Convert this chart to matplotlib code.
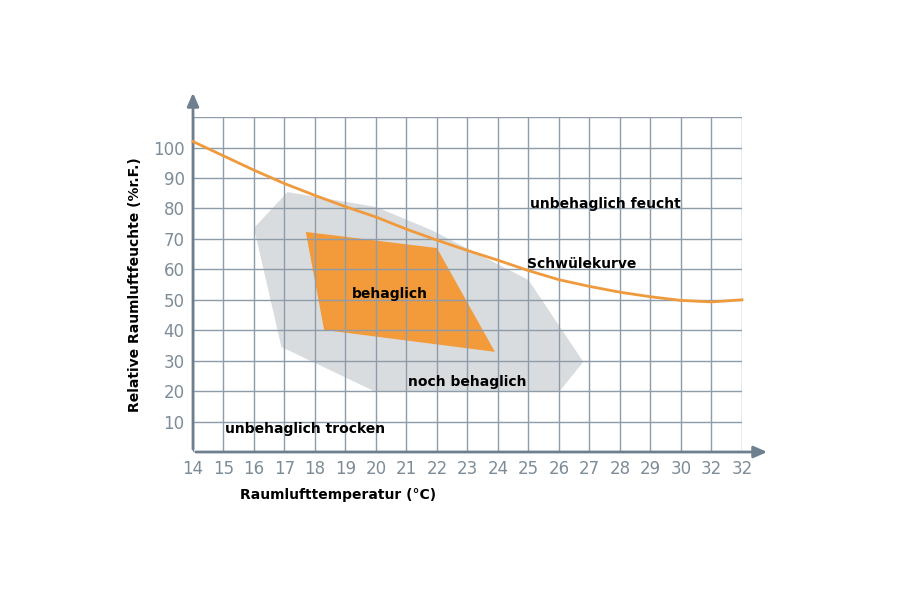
import matplotlib
import matplotlib.pyplot as plt

matplotlib.use('agg')

x_labels = ['14', '15', '16', '17', '18', '19', '20', '21', '22', '23', '24',
            '25', '26', '27', '28', '29', '30', '32', '32']
y_ticks = [10, 20, 30, 40, 50, 60, 70, 80, 90, 100]

# positions in axis index units (0 = label "14")
noch_x = [2.0, 3.1, 6.0, 7.8, 11.0, 12.8, 12.0, 6.0, 2.9]
noch_y = [73.6, 85.4, 80.5, 73.0, 56.5, 29.6, 19.7, 19.7, 34.5]
beh_x = [3.7, 8.0, 9.9, 4.3]
beh_y = [72.3, 67.0, 32.9, 40.1]
curve_x = [0, 1, 2, 3, 4, 5, 6, 7, 8, 9, 10, 11, 12, 13, 14, 15, 16, 17, 18]
curve_y = [102, 97.3, 92.6, 88.2, 84.3, 80.6, 77.2, 73.2, 69.6, 66.2, 63.0,
           59.6, 56.6, 54.4, 52.5, 51.0, 49.8, 49.3, 50.0]

GRID = '#8d9ca8'
AXIS = '#6e8090'
TICK = '#7d8c97'

fig = plt.figure(figsize=(9, 6), dpi=100)
ax = fig.add_axes([0.2144, 0.2467, 0.61, 0.558])
ax.set_xlim(0, 18)
ax.set_ylim(0, 110)

ax.fill(noch_x, noch_y, color='#d9dcde', zorder=1, lw=0)
ax.fill(beh_x, beh_y, color='#f39a3a', zorder=2, lw=0)

for i in range(19):
    ax.axvline(i, color=GRID, lw=1, zorder=3)
for v in range(0, 111, 10):
    ax.axhline(v, color=GRID, lw=1, zorder=3)

ax.plot(curve_x, curve_y, color='#ef9a3c', lw=2, zorder=4, clip_on=False)

for s in ax.spines.values():
    s.set_visible(False)
ax.set_xticks(range(19))
ax.set_xticklabels(x_labels)
ax.set_yticks(y_ticks)
ax.tick_params(length=0, labelsize=12, colors=TICK, pad=6)

arrow = dict(arrowstyle='-|>,head_length=0.8,head_width=0.35', color=AXIS, lw=2)
ax.annotate('', xy=(770 / 900, 148 / 600), xytext=(193 / 900, 148 / 600),
            xycoords='figure fraction', arrowprops=arrow)
ax.annotate('', xy=(193 / 900, 510 / 600), xytext=(193 / 900, 148 / 600),
            xycoords='figure fraction', arrowprops=arrow)

tkw = dict(fontsize=10, fontweight='bold', color='black', zorder=5)
ax.text(11.05, 81.5, 'unbehaglich feucht', va='center', **tkw)
ax.text(10.95, 61.8, 'Schwülekurve', va='center', **tkw)
ax.text(5.2, 52, 'behaglich', va='center', **tkw)
ax.text(7.05, 23, 'noch behaglich', va='center', **tkw)
ax.text(1.05, 7.5, 'unbehaglich trocken', va='center', **tkw)

fig.text(240 / 900, 1 - 495 / 600, 'Raumlufttemperatur (°C)', fontsize=10,
         fontweight='bold', va='center')
fig.text(135 / 900, 1 - 285 / 600, 'Relative Raumluftfeuchte (%r.F.)', fontsize=10,
         fontweight='bold', va='center', ha='center', rotation=90)

fig.savefig('out.png', dpi=100)
